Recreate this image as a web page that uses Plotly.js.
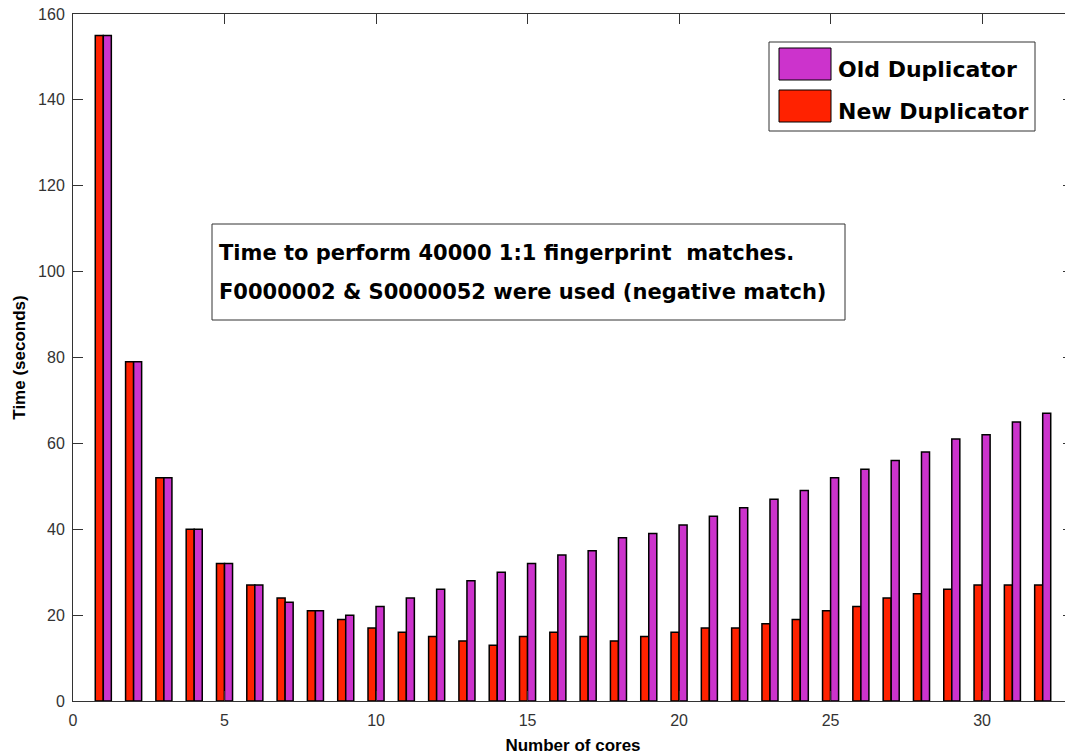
<!DOCTYPE html>
<html>
<head>
<meta charset="utf-8">
<script src="https://cdn.plot.ly/plotly-3.0.1.min.js"></script>
<style>
html, body { margin: 0; padding: 0; overflow: hidden; background: #fff; }
#chart { width: 1075px; height: 755px; }
</style>
</head>
<body>
<div id="chart"></div>
<script>
// ---- data ----
const cores = [1,2,3,4,5,6,7,8,9,10,11,12,13,14,15,16,17,18,19,20,21,22,23,24,25,26,27,28,29,30,31,32];
const newDuplicator = [155,79,52,40,32,27,24,21,19,17,16,15,14,13,15,16,15,14,15,16,17,17,18,19,21,22,24,25,26,27,27,27];
const oldDuplicator = [155,79,52,40,32,27,23,21,20,22,24,26,28,30,32,34,35,38,39,41,43,45,47,49,52,54,56,58,61,62,65,67];
const seriesNames = ["Old Duplicator", "New Duplicator"];
const xTicks = [0,5,10,15,20,25,30];
const yTicks = [0,20,40,60,80,100,120,140,160];
const noteLines = ["Time to perform 40000 1:1 fingerprint&nbsp;&nbsp;matches.", "F0000002 &amp; S0000052 were used (negative match)"];

const oldColor = "#CC33CC";
const newColor = "#FF2200";

// pixel -> paper helpers (plot area: x 73..1073, y 14..701)
const L = 73, R = 1073, T = 14, B = 701;
const px = v => (v - L) / (R - L);
const py = v => (B - v) / (B - T);

const traces = [
  { type: "bar", name: seriesNames[1], x: cores, y: newDuplicator,
    marker: { color: newColor, line: { color: "#000", width: 1.5 } }, showlegend: false },
  { type: "bar", name: seriesNames[0], x: cores, y: oldDuplicator,
    marker: { color: oldColor, line: { color: "#000", width: 1.5 } }, showlegend: false }
];

const axisFont = { family: "Liberation Sans, Arial, sans-serif", size: 16, color: "#333" };
const titleFont = { family: "Liberation Sans, Arial, sans-serif", size: 17, color: "#000", weight: "bold" };
const boxFont = { family: "DejaVu Sans, sans-serif", size: 21, color: "#000", weight: "bold" };
const legFont = { family: "DejaVu Sans, sans-serif", size: 22, color: "#000", weight: "bold" };

const layout = {
  width: 1075, height: 755,
  margin: { l: L, r: 1075 - R, t: T, b: 755 - B },
  paper_bgcolor: "#fff", plot_bgcolor: "#fff",
  barmode: "group", bargap: 0.47, bargroupgap: 0,
  showlegend: false,
  xaxis: {
    range: [0, 33], tickvals: xTicks, ticktext: xTicks.map(String),
    ticks: "inside", ticklen: 10, tickwidth: 1, tickcolor: "#333",
    showline: true, linecolor: "#333", linewidth: 1, mirror: "ticks",
    showgrid: false, zeroline: false,
    tickfont: axisFont, ticklabelstandoff: 5,
    title: { text: "Number of cores", font: titleFont, standoff: 10 },
    automargin: false
  },
  yaxis: {
    range: [0, 160], tickvals: yTicks, ticktext: yTicks.map(String),
    ticks: "inside", ticklen: 10, tickwidth: 1, tickcolor: "#333",
    showline: true, linecolor: "#333", linewidth: 1, mirror: "ticks",
    showgrid: false, zeroline: false,
    tickfont: axisFont, ticklabelstandoff: 4,
    title: { text: "Time (seconds)", font: titleFont, standoff: 8 },
    automargin: false
  },
  shapes: [
    // note box
    { type: "rect", xref: "paper", yref: "paper", x0: px(212), x1: px(845), y0: py(320), y1: py(224),
      line: { color: "#333", width: 1 }, fillcolor: "#fff", layer: "above" },
    // legend box
    { type: "rect", xref: "paper", yref: "paper", x0: px(769), x1: px(1035), y0: py(131), y1: py(42),
      line: { color: "#333", width: 1 }, fillcolor: "#fff", layer: "above" },
    { type: "rect", xref: "paper", yref: "paper", x0: px(779), x1: px(831), y0: py(80), y1: py(48),
      line: { color: "#000", width: 1 }, fillcolor: oldColor, layer: "above" },
    { type: "rect", xref: "paper", yref: "paper", x0: px(779), x1: px(831), y0: py(122), y1: py(90),
      line: { color: "#000", width: 1 }, fillcolor: newColor, layer: "above" }
  ],
  annotations: [
    { xref: "paper", yref: "paper", x: px(836), y: py(69), xanchor: "left", yanchor: "middle",
      text: seriesNames[0], showarrow: false, font: legFont },
    { xref: "paper", yref: "paper", x: px(836), y: py(111), xanchor: "left", yanchor: "middle",
      text: seriesNames[1], showarrow: false, font: legFont },
    { xref: "paper", yref: "paper", x: px(217), y: py(253), xanchor: "left", yanchor: "middle",
      text: noteLines[0], showarrow: false, font: boxFont },
    { xref: "paper", yref: "paper", x: px(217), y: py(292), xanchor: "left", yanchor: "middle",
      text: noteLines[1], showarrow: false, font: boxFont }
  ]
};

Plotly.newPlot("chart", traces, layout, { staticPlot: true, displayModeBar: false });
</script>
</body>
</html>
